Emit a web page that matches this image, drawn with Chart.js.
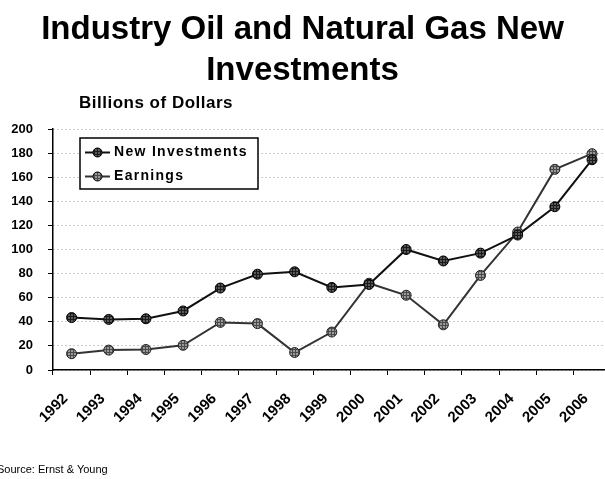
<!DOCTYPE html>
<html>
<head>
<meta charset="utf-8">
<script src="https://cdn.jsdelivr.net/npm/chart.js@4"></script>
<style>
  html, body { margin: 0; padding: 0; width: 605px; height: 479px; overflow: hidden; background: #fff; }
  #wrap { position: relative; width: 605px; height: 479px; overflow: hidden; }
  canvas { position: absolute; left: 0; top: 0; }
  .txt { position: absolute; font-family: "Liberation Sans", Arial, sans-serif; color: #000; white-space: nowrap; }
  #title { left: 0; width: 605px; top: 7px; text-align: center; font-weight: bold; font-size: 33px; line-height: 41px; }
  #sub { left: 79px; top: 93px; font-weight: bold; font-size: 17px; letter-spacing: 0.5px; }
  #src { left: -3px; top: 463px; font-size: 11px; }
</style>
</head>
<body>
<div id="wrap">
  <canvas id="chart" width="620" height="479"></canvas>
  <div id="title" class="txt">Industry Oil and Natural Gas New<br>Investments</div>
  <div id="sub" class="txt">Billions of Dollars</div>
  <div id="src" class="txt">Source: Ernst &amp; Young</div>
</div>
<script>
// Annual figures, billions of dollars
const years = ['1992','1993','1994','1995','1996','1997','1998','1999','2000','2001','2002','2003','2004','2005','2006'];
const newInvestments = [43.5, 42, 42.5, 49, 68, 79.5, 81.5, 68.5, 71, 100, 90.5, 97, 112, 135.5, 174.5];
const earnings = [13.5, 16.5, 17, 20.5, 39.5, 38.5, 14.5, 31.5, 72, 62, 37.5, 78.5, 114.5, 166.5, 179.5];
const yTicks = [0, 20, 40, 60, 80, 100, 120, 140, 160, 180, 200];
const seriesNames = ['New Investments', 'Earnings'];

// small cross-hatched fills for the markers
function hatch(bg, fg) {
  const c = document.createElement('canvas');
  c.width = 3; c.height = 3;
  const g = c.getContext('2d');
  g.fillStyle = bg; g.fillRect(0, 0, 3, 3);
  g.fillStyle = fg; g.fillRect(0, 1, 3, 1); g.fillRect(1, 0, 1, 3);
  return g.createPattern(c, 'repeat');
}
const fillInv = hatch('#5a5a5a', '#1a1a1a');
const fillEarn = hatch('#9a9a9a', '#4a4a4a');

const FONT = '"Liberation Sans", Arial, sans-serif';

// boxed legend with line-and-marker symbols
const boxedLegend = {
  id: 'boxedLegend',
  afterDraw(chart) {
    const ctx = chart.ctx;
    const x0 = 80, y0 = 138, w = 178, h = 51;
    ctx.save();
    ctx.fillStyle = '#fff';
    ctx.fillRect(x0, y0, w, h);
    ctx.strokeStyle = '#000';
    ctx.lineWidth = 1.5;
    ctx.strokeRect(x0, y0, w, h);
    const rows = [152.5, 176.5];
    chart.data.datasets.forEach((ds, i) => {
      const y = rows[i];
      ctx.strokeStyle = ds.borderColor;
      ctx.lineWidth = 2;
      ctx.beginPath(); ctx.moveTo(85, y); ctx.lineTo(110, y); ctx.stroke();
      ctx.beginPath(); ctx.arc(97.5, y, 4.5, 0, Math.PI * 2);
      ctx.fillStyle = ds.pointBackgroundColor; ctx.fill();
      ctx.lineWidth = 1; ctx.strokeStyle = '#000'; ctx.stroke();
      ctx.fillStyle = '#000';
      ctx.font = 'bold 14px ' + FONT;
      ctx.letterSpacing = '1.3px';
      ctx.textBaseline = 'middle';
      ctx.textAlign = 'left';
      ctx.fillText(ds.label, 114, y);
    });
    ctx.restore();
  }
};

new Chart(document.getElementById('chart'), {
  type: 'line',
  data: {
    labels: years,
    datasets: [
      {
        label: seriesNames[0], data: newInvestments,
        borderColor: '#111', borderWidth: 2,
        pointBackgroundColor: fillInv, pointBorderColor: '#000', pointBorderWidth: 1,
        pointRadius: 5, tension: 0
      },
      {
        label: seriesNames[1], data: earnings,
        borderColor: '#333', borderWidth: 2,
        pointBackgroundColor: fillEarn, pointBorderColor: '#222', pointBorderWidth: 1,
        pointRadius: 5, tension: 0
      }
    ]
  },
  options: {
    responsive: false,
    animation: false,
    layout: { padding: { left: 0, top: 129, right: 7.5, bottom: 0 } },
    plugins: { legend: { display: false }, title: { display: false }, tooltip: { enabled: false } },
    scales: {
      x: {
        offset: true,
        grid: { drawOnChartArea: false, drawTicks: true, tickLength: 5, color: '#000', tickColor: '#000', offset: true },
        border: { display: true, color: '#000', width: 1.5 },
        ticks: {
          color: '#000', font: { family: FONT, size: 15, weight: 'bold' },
          minRotation: 45, maxRotation: 45, autoSkip: false, padding: 15, labelOffset: -6
        },
        afterFit(s) { s.height = 109; }
      },
      y: {
        min: 0, max: 200,
        afterBuildTicks(s) { s.ticks = yTicks.map(v => ({ value: v })); },
        grid: { color: '#999', lineWidth: 1, tickLength: 5, tickColor: '#000', drawTicks: true },
        border: { display: true, color: '#000', width: 1.5, dash: [1, 3] },
        ticks: { color: '#000', font: { family: FONT, size: 13, weight: 'bold' }, padding: 15 },
        afterFit(s) { s.width = 53; }
      }
    }
  },
  plugins: [boxedLegend]
});
</script>
</body>
</html>
